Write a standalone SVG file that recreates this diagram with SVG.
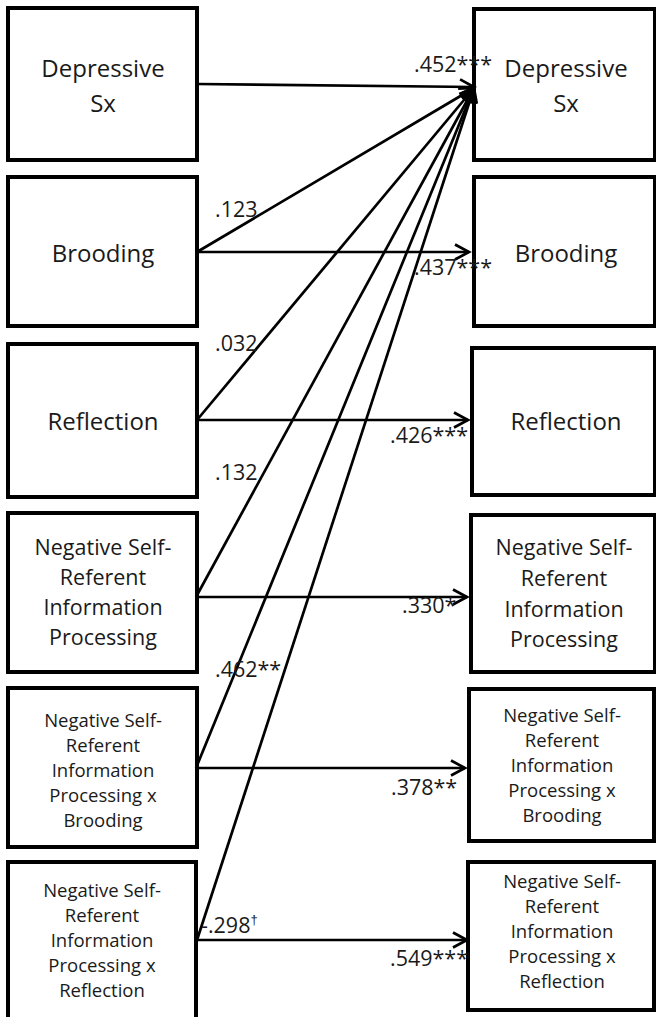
<svg xmlns="http://www.w3.org/2000/svg" width="656" height="1017" viewBox="0 0 656 1017">
<style>
.box{fill:#fff;stroke:#000;stroke-width:4}
.t{font-family:"Open Sans","Liberation Sans",sans-serif;fill:#1a1a1a;text-anchor:middle}
.big{font-size:24px}
.mid{font-size:21.5px}
.sm{font-size:18.5px}
.lbl{font-family:"Open Sans","Liberation Sans",sans-serif;font-size:21.5px;fill:#1a1a1a}
.c{fill:none;stroke:#000;stroke-width:2.7}
</style>
<defs>
<marker id="ah" markerUnits="userSpaceOnUse" markerWidth="20" markerHeight="20" viewBox="-16 -10 20 20" refX="0" refY="0" orient="auto">
<path d="M-14,-7.5 L0,0 L-14,7.5" fill="none" stroke="#000" stroke-width="2.7"/>
</marker>
</defs>
<rect x="0" y="0" width="656" height="1017" fill="#fff"/>

<g id="L1"><rect class="box" x="8" y="8" width="189" height="152"/>
<text class="t big" x="103" y="77">Depressive</text><text class="t big" x="103" y="112">Sx</text></g>
<g id="L2"><rect class="box" x="8" y="177" width="189" height="149"/>
<text class="t big" x="103" y="262">Brooding</text></g>
<g id="L3"><rect class="box" x="8" y="344" width="189" height="153"/>
<text class="t big" x="103" y="430">Reflection</text></g>
<g id="L4"><rect class="box" x="8" y="513" width="189" height="159"/>
<text class="t mid" x="103" y="555">Negative Self-</text><text class="t mid" x="103" y="585">Referent</text><text class="t mid" x="103" y="615">Information</text><text class="t mid" x="103" y="645">Processing</text></g>
<g id="L5"><rect class="box" x="8" y="688" width="189" height="159"/>
<text class="t sm" x="103" y="727">Negative Self-</text><text class="t sm" x="103" y="752">Referent</text><text class="t sm" x="103" y="777">Information</text><text class="t sm" x="103" y="802">Processing x</text><text class="t sm" x="103" y="827">Brooding</text></g>
<g id="L6"><rect class="box" x="8" y="862" width="188" height="170"/>
<text class="t sm" x="102" y="897">Negative Self-</text><text class="t sm" x="102" y="922">Referent</text><text class="t sm" x="102" y="947">Information</text><text class="t sm" x="102" y="972">Processing x</text><text class="t sm" x="102" y="997">Reflection</text></g>

<g id="R1"><rect class="box" x="474" y="9" width="181" height="151"/>
<text class="t big" x="566" y="77">Depressive</text><text class="t big" x="566" y="112">Sx</text></g>
<g id="R2"><rect class="box" x="474" y="177" width="181" height="149"/>
<text class="t big" x="566" y="262">Brooding</text></g>
<g id="R3"><rect class="box" x="472" y="348" width="183" height="147"/>
<text class="t big" x="566" y="430">Reflection</text></g>
<g id="R4"><rect class="box" x="471" y="515" width="184" height="157"/>
<text class="t mid" x="564" y="555">Negative Self-</text><text class="t mid" x="564" y="586">Referent</text><text class="t mid" x="564" y="617">Information</text><text class="t mid" x="564" y="647">Processing</text></g>
<g id="R5"><rect class="box" x="469" y="689" width="185" height="152"/>
<text class="t sm" x="562" y="722">Negative Self-</text><text class="t sm" x="562" y="747">Referent</text><text class="t sm" x="562" y="772">Information</text><text class="t sm" x="562" y="797">Processing x</text><text class="t sm" x="562" y="822">Brooding</text></g>
<g id="R6"><rect class="box" x="468" y="862" width="186" height="148"/>
<text class="t sm" x="562" y="888">Negative Self-</text><text class="t sm" x="562" y="913">Referent</text><text class="t sm" x="562" y="938">Information</text><text class="t sm" x="562" y="963">Processing x</text><text class="t sm" x="562" y="988">Reflection</text></g>

<g id="connectors">
<line class="c" x1="197" y1="84" x2="474" y2="87" marker-end="url(#ah)"/>
<line class="c" x1="197" y1="252" x2="469" y2="252" marker-end="url(#ah)"/>
<line class="c" x1="197" y1="420" x2="468" y2="420" marker-end="url(#ah)"/>
<line class="c" x1="196" y1="597" x2="467" y2="597" marker-end="url(#ah)"/>
<line class="c" x1="196" y1="768" x2="465" y2="768" marker-end="url(#ah)"/>
<line class="c" x1="197" y1="940" x2="467" y2="940" marker-end="url(#ah)"/>
<line class="c" x1="197" y1="252" x2="474" y2="88" marker-end="url(#ah)"/>
<line class="c" x1="197" y1="420" x2="474" y2="88" marker-end="url(#ah)"/>
<line class="c" x1="196" y1="597" x2="474" y2="88" marker-end="url(#ah)"/>
<line class="c" x1="196" y1="768" x2="474" y2="88" marker-end="url(#ah)"/>
<line class="c" x1="197" y1="940" x2="474" y2="88" marker-end="url(#ah)"/>
</g>

<g id="labels">
<text class="lbl" x="414" y="72">.452***</text>
<text class="lbl" x="215" y="217">.123</text>
<text class="lbl" x="414" y="275">.437***</text>
<text class="lbl" x="215" y="351">.032</text>
<text class="lbl" x="390" y="443">.426***</text>
<text class="lbl" x="215" y="480">.132</text>
<text class="lbl" x="402" y="613">.330*</text>
<text class="lbl" x="215" y="677">.462**</text>
<text class="lbl" x="391" y="795">.378**</text>
<text class="lbl" x="201" y="933">-.298<tspan font-family="'Liberation Sans',sans-serif" font-size="13" dy="-9" fill="#1a1a1a">†</tspan></text>
<text class="lbl" x="390" y="966">.549***</text>
</g>
</svg>
